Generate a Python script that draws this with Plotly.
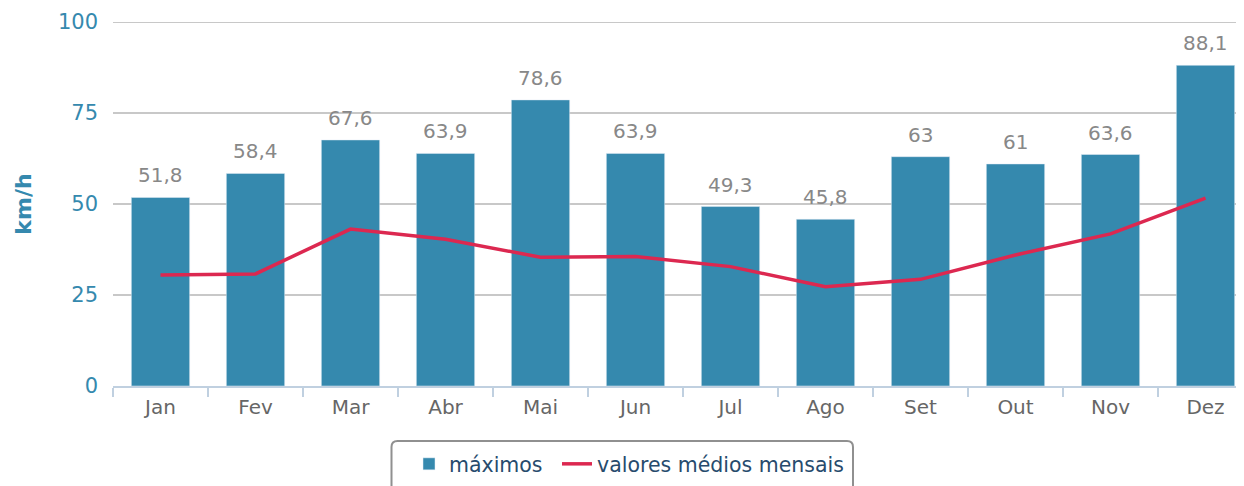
import plotly.graph_objects as go

months = ["Jan", "Fev", "Mar", "Abr", "Mai", "Jun", "Jul", "Ago", "Set", "Out", "Nov", "Dez"]
maximos = [51.8, 58.4, 67.6, 63.9, 78.6, 63.9, 49.3, 45.8, 63, 61, 63.6, 88.1]
medios = [30.5, 30.8, 43.1, 40.3, 35.4, 35.6, 32.8, 27.3, 29.3, 36.0, 41.8, 51.6]
y_ticks = [0, 25, 50, 75, 100]

BAR = "#3589ae"
LINE = "#dc2850"
FONT = "DejaVu Sans"

labels = [f"{v:g}".replace(".", ",") for v in maximos]

fig = go.Figure()
fig.add_trace(go.Bar(
    x=months, y=maximos, name="máximos", marker_color=BAR, legend="legend",
))
fig.add_trace(go.Scatter(
    x=months, y=medios, name="valores médios mensais", mode="lines",
    line=dict(color=LINE, width=3.5), legend="legend2",
))

for m, v, t in zip(months, maximos, labels):
    fig.add_annotation(x=m, y=v, text=t, showarrow=False, yanchor="bottom",
                       yshift=8, font=dict(family=FONT, size=20, color="#888888"))

# page has an 8px body margin: work in page coords shifted by 8
OFF = 8
W, H = 1244 - OFF, 486 - OFF
L = 113 - OFF
T = 22 - OFF
PB = 386 - OFF
B = H - PB
pw = W - L
ph = PB - T
cat_w = 95.0
xmax = -0.5 + pw / cat_w

leg_common = dict(
    orientation="h", y=(386 - 444) / ph, xanchor="left", yanchor="top",
    font=dict(family=FONT, size=20.5, color="#274b6d"),
    bgcolor="rgba(0,0,0,0)", borderwidth=0,
)

fig.update_layout(
    width=W, height=H,
    margin=dict(l=L, r=0, t=T, b=B, pad=0),
    plot_bgcolor="white", paper_bgcolor="white",
    bargap=0.386,
    font=dict(family=FONT, size=20, color="#666666"),
    showlegend=True,
    legend=dict(x=(409 - 113) / pw, **leg_common),
    legend2=dict(x=(557 - 113) / pw, **leg_common),
    xaxis=dict(
        range=[-0.5, xmax], showgrid=False, zeroline=False,
        showline=True, linecolor="#c0d0e0", linewidth=2,
        ticks="outside", tickson="boundaries", ticklen=9, tickwidth=2, tickcolor="#c0d0e0",
        ticklabelstandoff=2,
        tickfont=dict(family=FONT, size=20, color="#666666"),
    ),
    yaxis=dict(
        range=[0, 100], tickvals=y_ticks, showgrid=True, gridcolor="#c8c8c8", gridwidth=2,
        zeroline=False, showline=False, ticks="", ticklabelstandoff=14,
        tickfont=dict(family=FONT, size=21, color="#3589ae"),
        title=dict(text="<b>km/h</b>", font=dict(family=FONT, size=22, color="#3589ae"), standoff=20),
    ),
)

# top gridline at 100
fig.add_shape(type="line", xref="paper", yref="y", x0=0, x1=1, y0=100, y1=100,
              line=dict(color="#c8c8c8", width=2), layer="below")

# rounded legend border
x0 = (391.5 - 113) / pw
x1 = (853 - 113) / pw
y0 = (386 - 441) / ph
y1 = (386 - 500) / ph
rx = 6 / pw
ry = 6 / ph
path = (f"M {x0+rx} {y0} L {x1-rx} {y0} Q {x1} {y0} {x1} {y0-ry} "
        f"L {x1} {y1+ry} Q {x1} {y1} {x1-rx} {y1} L {x0+rx} {y1} Q {x0} {y1} {x0} {y1+ry} "
        f"L {x0} {y0-ry} Q {x0} {y0} {x0+rx} {y0} Z")
fig.add_shape(type="path", path=path, xref="paper", yref="paper",
              line=dict(color="#909090", width=2), fillcolor="rgba(0,0,0,0)", layer="above")

fig.write_html("out.html")
